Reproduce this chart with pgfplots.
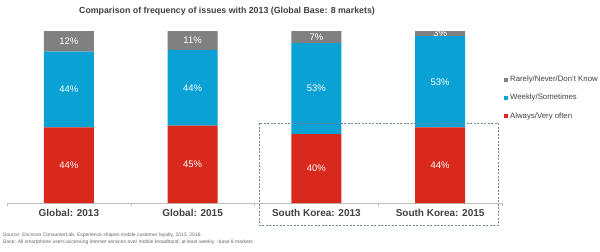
\documentclass[border=0pt]{standalone}
\usepackage{pgfplots}
\usepackage{pgfplotstable}
\pgfplotsset{compat=1.18}
\usepackage{fontspec}
\setmainfont{Liberation Sans}
\definecolor{ericred}{HTML}{D9281C}
\definecolor{ericblue}{HTML}{0AA2D5}
\definecolor{ericgray}{HTML}{808080}
\definecolor{txt}{HTML}{404040}
\definecolor{boxline}{HTML}{71819A}

% share of users (%) by how often they meet issues
\pgfplotstableread{
x always weekly rarely
0 44 44 12
1 45 44 11
2 40 53 7
3 44 53 3
}\freqtable

\begin{document}
\begin{tikzpicture}
\path[use as bounding box] (0,0) rectangle (600bp,-252bp);
\node[font=\fontsize{8.8bp}{11bp}\selectfont\bfseries, text=txt] at (227bp,-11bp)
  {Comparison of frequency of issues with 2013 (Global Base: 8 markets)};
\begin{axis}[
  at={(7bp,-203bp)}, anchor=south west,
  scale only axis, width=495bp, height=172bp,
  xmin=-0.5, xmax=3.5, ymin=0, ymax=100,
  ybar stacked, bar width=50bp,
  axis y line=none, axis x line*=bottom,
  x axis line style={draw=gray!50, -},
  xtick={0,1,2,3},
  xticklabels={Global: 2013, Global: 2015, South Korea: 2013, South Korea: 2015},
  major tick length=0pt,
  xticklabel style={font=\fontsize{10bp}{12bp}\selectfont\bfseries, text=txt, inner sep=0pt, yshift=-6bp},
  extra x ticks={-0.5,0.5,1.5,2.5,3.5},
  extra x tick labels={},
  extra x tick style={major tick length=3bp, tick align=outside, tick style={draw=gray!50}},
  /pgf/number format/assume math mode=true,
  visualization depends on=rawy\as\rawy,
  nodes near coords={\pgfmathprintnumber{\rawy}\%},
  every node near coord/.append style={font=\fontsize{9.5bp}{11bp}\selectfont, text=white,
    anchor=center},
  legend style={at={(1.004,0.75)}, anchor=north west, draw=none, fill=none,
    font=\fontsize{7.8bp}{9bp}\selectfont, text=txt, row sep=7bp, inner sep=0pt},
  legend cell align=left,
  legend image code/.code={\fill[#1] (0bp,-2bp) rectangle (4bp,2bp);},
  reverse legend,
]
\addplot[fill=ericred, draw=none] table[x=x, y=always] {\freqtable};
\addplot[fill=ericblue, draw=none] table[x=x, y=weekly] {\freqtable};
\addplot[fill=ericgray, draw=none] table[x=x, y=rarely] {\freqtable};
\legend{Always/Very often, Weekly/Sometimes, Rarely/Never/Don’t Know}
\end{axis}
\draw[boxline, dash pattern=on 2bp off 1.5bp, line width=0.6bp] (259bp,-123bp) rectangle (498bp,-225bp);
\node[anchor=west, font=\fontsize{5bp}{6bp}\selectfont, text=gray!80!black, inner sep=0pt] at (3bp,-235bp)
  {Source: Ericsson ConsumerLab, Experience shapes mobile customer loyalty, 2013, 2016};
\node[anchor=west, font=\fontsize{5bp}{6bp}\selectfont, text=gray!80!black, inner sep=0pt] at (3bp,-242bp)
  {Base: All smartphone users accessing internet services over mobile broadband, at least weekly - base 8 markets};
\end{tikzpicture}
\end{document}
